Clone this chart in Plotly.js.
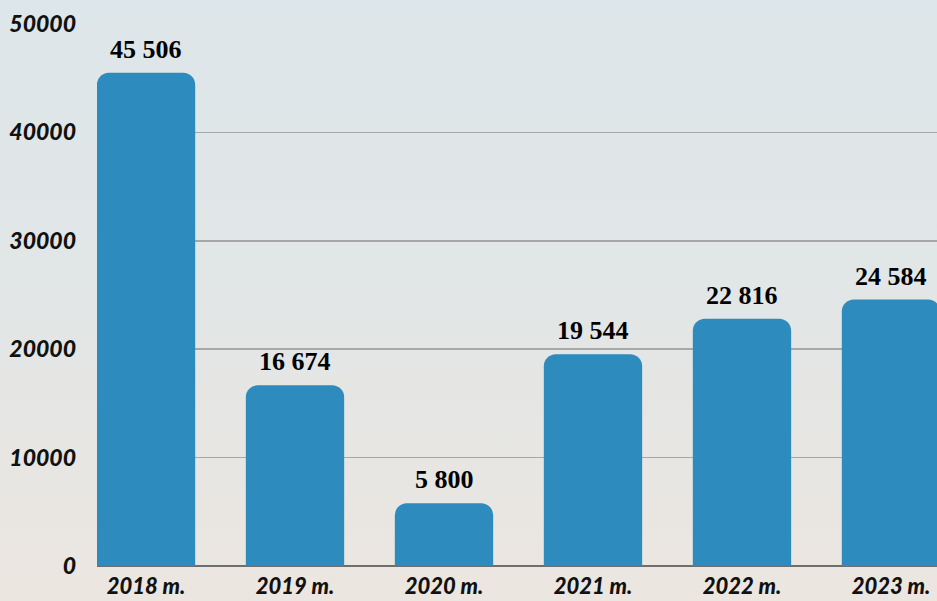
<!DOCTYPE html>
<html>
<head>
<meta charset="utf-8">
<script src="https://cdn.plot.ly/plotly-3.0.1.min.js"></script>
<style>
html,body{margin:0;padding:0;width:937px;height:601px;overflow:hidden;
background:linear-gradient(180deg,#dde6ea 0%,#e2e6e6 50%,#ece6e0 100%);}
#chart{width:937px;height:601px;}
</style>
</head>
<body>
<div id="chart"></div>
<script>
var categories = ["2018 m.", "2019 m.", "2020 m.", "2021 m.", "2022 m.", "2023 m."];
var values = [45506, 16674, 5800, 19544, 22816, 24584];
var yTicks = [0, 10000, 20000, 30000, 40000, 50000];

function fmt(v){ return String(v).replace(/\B(?=(\d{3})+(?!\d))/g, " "); }

var trace = {
  type: "bar",
  x: categories,
  y: values,
  marker: {color: "#2e8bbd", cornerradius: 12},
  hoverinfo: "none"
};

var annotations = categories.map(function(c, i){
  return {x: c, y: values[i], text: "<b>" + fmt(values[i]) + "</b>", showarrow: false,
    yanchor: "bottom", yshift: 7,
    font: {family: "Liberation Serif, Times New Roman, serif", size: 26, color: "#000"}};
});

var tf = {family: "Lato, sans-serif", size: 23, color: "#111", weight: 900, style: "italic"};

var layout = {
  width: 937, height: 601,
  margin: {l: 97, r: 0, t: 24, b: 35},
  paper_bgcolor: "rgba(0,0,0,0)",
  plot_bgcolor: "rgba(0,0,0,0)",
  bargap: 0.34,
  showlegend: false,
  xaxis: {
    type: "category",
    range: [-0.329, 5.309],
    showgrid: false, showline: false, zeroline: false,
    ticks: "", ticklabelstandoff: 5,
    tickfont: {family: "Lato, sans-serif", size: 22, color: "#111", weight: 900, style: "italic"},
    fixedrange: true
  },
  yaxis: {
    range: [0, 50000],
    tickvals: yTicks,
    ticktext: yTicks.map(String),
    showgrid: true, gridcolor: "#a6a8a8", gridwidth: 1.5,
    zeroline: true, zerolinecolor: "#6e6e6e", zerolinewidth: 2,
    ticks: "", ticklabelstandoff: 20,
    tickfont: tf,
    fixedrange: true
  },
  annotations: annotations
};

Plotly.newPlot("chart", [trace], layout, {displayModeBar: false, staticPlot: true});
</script>
</body>
</html>
